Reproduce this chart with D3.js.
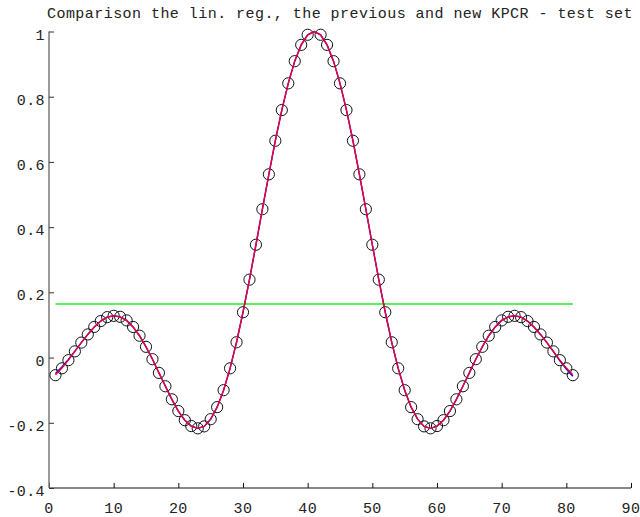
<!DOCTYPE html>
<html>
<head>
<meta charset="utf-8">
<script src="https://cdn.jsdelivr.net/npm/d3@7"></script>
<style>
  body { margin: 0; background: #fff; }
  svg { display: block; }
  text { font-family: "Liberation Mono", "DejaVu Sans Mono", monospace; fill: #222; }
</style>
</head>
<body>
<script>
// sample index 1..81 (the middle one, 41, has no target value)
var target = [
  -0.054, -0.033, -0.008, 0.019, 0.046, 0.071, 0.094, 0.112, 0.124, 0.128,
  0.125, 0.114, 0.094, 0.067, 0.033, -0.005, -0.047, -0.088, -0.128, -0.164,
  -0.192, -0.210, -0.217, -0.211, -0.189, -0.152, -0.100, -0.033, 0.047, 0.139,
  0.239, 0.346, 0.455, 0.562, 0.665, 0.759, 0.841, 0.909, 0.959, 0.990,
  null,
  0.990, 0.959, 0.909, 0.841, 0.759, 0.665, 0.562, 0.455, 0.346, 0.239,
  0.139, 0.047, -0.033, -0.100, -0.152, -0.189, -0.211, -0.217, -0.210, -0.192,
  -0.164, -0.128, -0.088, -0.047, -0.005, 0.033, 0.067, 0.094, 0.114, 0.125,
  0.128, 0.124, 0.112, 0.094, 0.071, 0.046, 0.019, -0.008, -0.033, -0.054
];

// new KPCR prediction (red)
var newKpcr = [
  -0.053, -0.032, -0.008, 0.019, 0.046, 0.071, 0.094, 0.112, 0.124, 0.128,
  0.125, 0.114, 0.094, 0.067, 0.033, -0.005, -0.047, -0.088, -0.128, -0.164,
  -0.192, -0.210, -0.217, -0.211, -0.189, -0.152, -0.100, -0.033, 0.047, 0.139,
  0.239, 0.346, 0.455, 0.562, 0.665, 0.759, 0.841, 0.909, 0.959, 0.990,
  1.000,
  0.990, 0.959, 0.909, 0.841, 0.759, 0.665, 0.562, 0.455, 0.346, 0.239,
  0.139, 0.047, -0.033, -0.100, -0.152, -0.189, -0.211, -0.217, -0.210, -0.192,
  -0.164, -0.128, -0.088, -0.047, -0.005, 0.033, 0.067, 0.094, 0.114, 0.125,
  0.128, 0.124, 0.112, 0.094, 0.071, 0.046, 0.019, -0.008, -0.032, -0.053
];

// previous KPCR prediction (blue), mostly hidden under the red one
var prevKpcr = [
  -0.049, -0.029, -0.006, 0.020, 0.046, 0.071, 0.094, 0.112, 0.124, 0.128,
  0.125, 0.114, 0.094, 0.067, 0.033, -0.005, -0.047, -0.088, -0.128, -0.164,
  -0.192, -0.210, -0.217, -0.211, -0.189, -0.152, -0.100, -0.033, 0.047, 0.139,
  0.239, 0.346, 0.455, 0.562, 0.665, 0.759, 0.841, 0.909, 0.959, 0.990,
  1.000,
  0.990, 0.959, 0.909, 0.841, 0.759, 0.665, 0.562, 0.455, 0.346, 0.239,
  0.139, 0.047, -0.033, -0.100, -0.152, -0.189, -0.211, -0.217, -0.210, -0.192,
  -0.164, -0.128, -0.088, -0.047, -0.005, 0.033, 0.067, 0.094, 0.114, 0.125,
  0.128, 0.124, 0.112, 0.094, 0.071, 0.046, 0.018, -0.010, -0.035, -0.057
];

// linear regression (green), constant
var linReg = 0.164;

var xTicks = [0, 10, 20, 30, 40, 50, 60, 70, 80, 90];
var yTicks = [-0.4, -0.2, 0, 0.2, 0.4, 0.6, 0.8, 1];
var yTickLabels = ["-0.4", "-0.2", "0", "0.2", "0.4", "0.6", "0.8", "1"];
var title = "Comparison the lin. reg., the previous and new KPCR - test set";

var W = 640, H = 517;
var svg = d3.select("body").append("svg").attr("width", W).attr("height", H);

var x = d3.scaleLinear().domain([0, 90]).range([49, 631]);
var y = d3.scaleLinear().domain([-0.4, 1]).range([488, 31.5]);

var idx = d3.range(1, target.length + 1);

// axes (ticks point inward)
var xAxis = svg.append("g").attr("transform", "translate(0," + y(-0.4) + ")")
  .call(d3.axisTop(x).tickValues(xTicks).tickSize(5).tickFormat(""));
xAxis.select(".domain").attr("d", "M" + x(0) + ",0H" + x(90)).attr("stroke", "#111");
xAxis.selectAll(".tick line").attr("stroke", "#111");

var yAxis = svg.append("g").attr("transform", "translate(" + x(0) + ",0)")
  .call(d3.axisRight(y).tickValues(yTicks).tickSize(5).tickFormat(""));
yAxis.select(".domain").attr("d", "M0," + y(1) + "V" + y(-0.4)).attr("stroke", "#777").attr("stroke-width", 1.5);
yAxis.selectAll(".tick line").attr("stroke", "#333");

svg.selectAll(".xlab").data(xTicks).enter().append("text")
  .attr("x", d => x(d)).attr("y", 513)
  .attr("text-anchor", "middle")
  .style("font-size", "15px").style("letter-spacing", "0.4px")
  .text(d => d);

svg.selectAll(".ylab").data(yTicks).enter().append("text")
  .attr("x", 45).attr("y", d => y(d) + 8)
  .attr("text-anchor", "end")
  .style("font-size", "15px").style("letter-spacing", "0.4px")
  .text((d, i) => yTickLabels[i]);

svg.append("text").attr("x", 47).attr("y", 18)
  .style("font-size", "15px").style("letter-spacing", "0.45px")
  .text(title);

// target samples
svg.append("g").selectAll("circle")
  .data(idx.filter(i => target[i - 1] !== null))
  .enter().append("circle")
  .attr("cx", i => x(i)).attr("cy", i => y(target[i - 1]))
  .attr("r", 5.6)
  .attr("fill", "none").attr("stroke", "#111").attr("stroke-width", 1);

// linear regression
svg.append("path")
  .datum(idx)
  .attr("d", d3.line().x(i => x(i)).y(() => y(linReg)))
  .attr("fill", "none").attr("stroke", "#22ee22").attr("stroke-width", 1.5);

var line = function (arr) {
  return d3.line().x(i => x(i)).y(i => y(arr[i - 1]));
};

svg.append("path").datum(idx).attr("d", line(prevKpcr))
  .attr("fill", "none").attr("stroke", "#0000ff").attr("stroke-width", 1.4);

svg.append("path").datum(idx).attr("d", line(newKpcr))
  .attr("fill", "none").attr("stroke", "#ee0033").attr("stroke-width", 1.4);
</script>
</body>
</html>
